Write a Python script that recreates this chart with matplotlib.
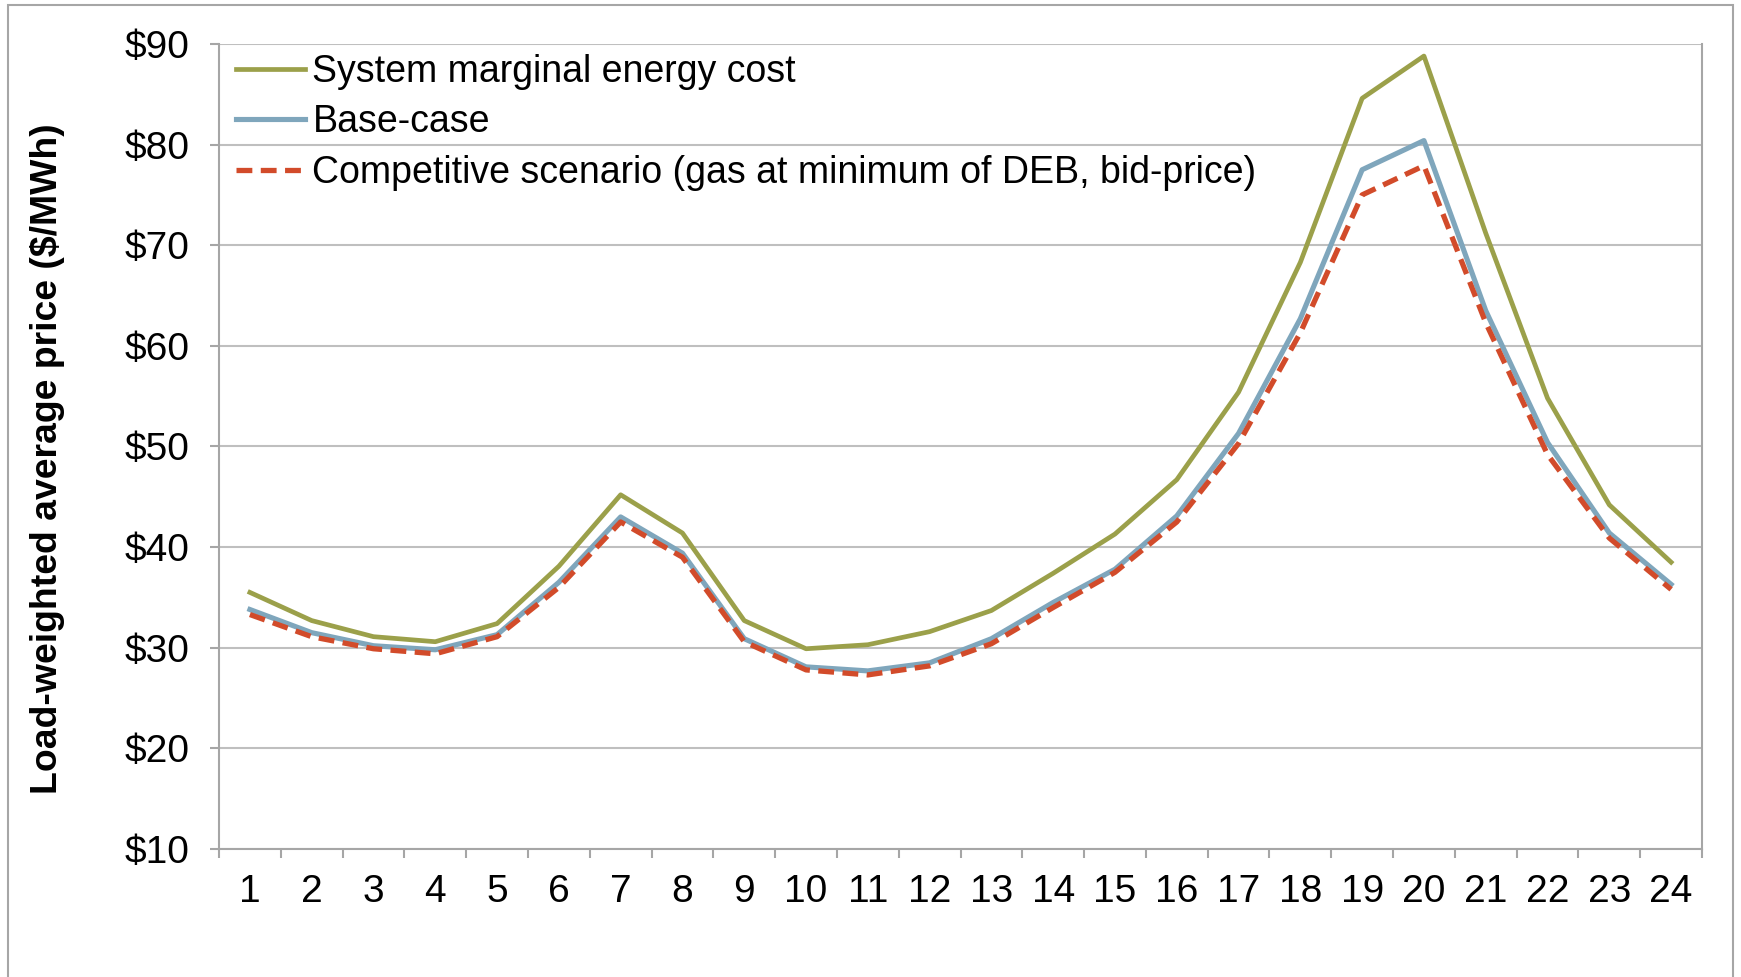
import matplotlib.pyplot as plt
from matplotlib.patches import Rectangle

plt.rcParams['font.family'] = ['Liberation Sans', 'DejaVu Sans']

hours = list(range(1, 25))

system_marginal = [35.5, 32.7, 31.1, 30.6, 32.4, 38.1, 45.2, 41.4, 32.7, 29.9, 30.3, 31.6,
                   33.7, 37.4, 41.3, 46.7, 55.4, 68.3, 84.6, 88.8, 71.2, 54.8, 44.2, 38.5]
base_case = [33.8, 31.5, 30.2, 29.8, 31.3, 36.5, 43.0, 39.4, 30.9, 28.1, 27.7, 28.5,
             30.9, 34.5, 37.8, 43.1, 51.3, 62.7, 77.5, 80.4, 63.5, 50.4, 41.4, 36.3]
competitive = [33.3, 31.1, 29.9, 29.4, 31.1, 36.0, 42.5, 39.0, 30.6, 27.8, 27.3, 28.2,
               30.4, 34.0, 37.5, 42.5, 50.3, 61.3, 75.0, 77.9, 62.3, 49.2, 40.9, 35.8]

labels = ['System marginal energy cost', 'Base-case',
          'Competitive scenario (gas at minimum of DEB, bid-price)']
y_ticks = [10, 20, 30, 40, 50, 60, 70, 80, 90]

fig = plt.figure(figsize=(17.41, 9.77), dpi=100)
ax = fig.add_axes([0.1258, 0.131, 0.9776 - 0.1258, 0.955 - 0.131])

# outer chart border
fig.patches.append(Rectangle((8 / 1741, -0.1), 1 - 16 / 1741, 1.1 - 5 / 977,
                             transform=fig.transFigure, fill=False,
                             edgecolor='#A6A6A6', linewidth=1.5))

ax.plot(hours, system_marginal, color='#9BA04A', lw=3.4, label=labels[0])
ax.plot(hours, base_case, color='#7FA6BC', lw=3.7, label=labels[1])
ax.plot(hours, competitive, color='#D24B2A', lw=3.8, dashes=(3.0, 1.6), label=labels[2])

ax.set_xlim(0.5, 24.5)
ax.set_ylim(10, 90)
ax.set_yticks(y_ticks)
ax.set_yticklabels(['$%d' % v for v in y_ticks])
ax.set_xticks(hours)
ax.set_xticklabels([str(h) for h in hours])
ax.set_xticks([h + 0.5 for h in range(0, 25)], minor=True)

ax.grid(axis='y', color='#BFBFBF', lw=1.5)
ax.set_axisbelow(True)
ax.spines['top'].set_visible(False)
for s in ['left', 'bottom', 'right']:
    ax.spines[s].set_color('#A6A6A6')
    ax.spines[s].set_linewidth(1.5)

ax.tick_params(axis='y', labelsize=28, length=6.5, width=1.5, color='#A6A6A6', pad=15)
ax.tick_params(axis='x', which='major', labelsize=28, length=0, pad=18)
ax.tick_params(axis='x', which='minor', length=6.5, width=1.5, color='#A6A6A6')

ax.set_ylabel('Load-weighted average price ($/MWh)', fontsize=26.9, fontweight='bold')
ax.yaxis.set_label_coords(-0.104, 0.485)

ax.legend(loc='upper left', bbox_to_anchor=(0.001, 1.006), frameon=False, fontsize=27,
          handlelength=1.84, handletextpad=0.21, labelspacing=0.38, borderaxespad=0)

fig.savefig('out.png', dpi=100)
